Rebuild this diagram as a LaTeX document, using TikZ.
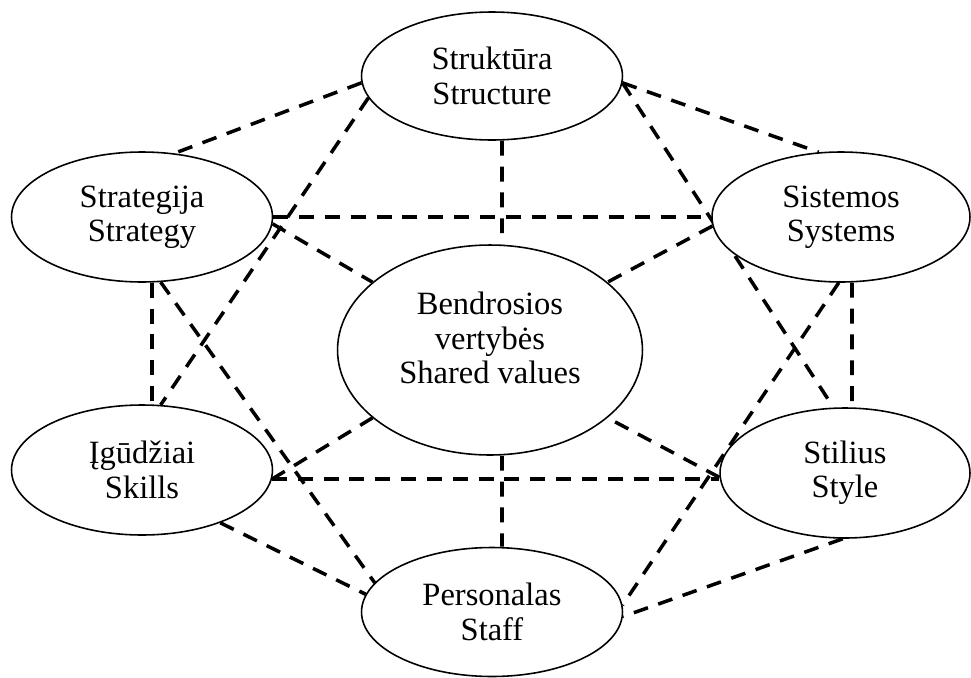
\documentclass[tikz,border=0pt]{standalone}
\usepackage{fontspec}
\setmainfont{Liberation Serif}
\usetikzlibrary{shapes.geometric,backgrounds}
\tikzset{
  every node/.style={font=\fontsize{18.5}{19.6}\selectfont},
  factor/.style={
    ellipse, draw=black, line width=0.9pt, fill=white,
    minimum width=5.22cm, minimum height=2.6cm,
    inner sep=0pt, align=center
  },
  link/.style={
    draw=black, line width=2pt, dash pattern=on 8.5pt off 6.2pt
  },
}
\begin{document}
\begin{tikzpicture}[x=0.02cm, y=-0.02cm]
  \useasboundingbox (0,0) rectangle (971,677);
  \node[factor, minimum height=2.56cm] (struct) at (492,76) {Struktūra\\Structure};
  \node[factor] (strat) at (142,217) {Strategija\\Strategy};
  \node[factor, minimum width=5.16cm] (sys) at (841,217) {Sistemos\\Systems};
  \node[factor, minimum width=6.1cm, minimum height=4.2cm, text depth=0.48cm] (shared) at (490,350) {Bendrosios\\vertybės\\Shared values};
  \node[factor] (skills) at (142,470) {Įgūdžiai\\Skills};
  \node[factor, minimum width=5cm] (style) at (845,473) {Stilius\\Style};
  \node[factor, minimum height=2.58cm] (staff) at (492,612) {Personalas\\Staff};

  \begin{scope}[on background layer]
    \draw[link] (struct.183) -- (strat.63);
    \draw[link] (struct.190) -- (skills.74);
    \draw[link] (struct.357) -- (sys.109);
    \draw[link] (struct.357) -- (style.100);
    \draw[link] ([xshift=0.2cm]struct.south) -- ([xshift=0.24cm]shared.north);
    \draw[link] (strat.east) -- (sys.west);
    \draw[link] (strat.357) -- (shared.150);
    \draw[link] ([xshift=0.2cm]strat.south) -- ([xshift=0.2cm]skills.north);
    \draw[link] (strat.286) -- (staff.166);
    \draw[link] (sys.184) -- (shared.30);
    \draw[link] ([xshift=0.22cm]sys.south) -- ([xshift=0.14cm]style.north);
    \draw[link] (sys.268) -- (staff.3);
    \draw[link] (skills.356) -- (skills.356 -| style.west);
    \draw[link] (skills.356) -- (shared.210);
    \draw[link] (skills.326) -- (staff.172);
    \draw[link] (style.182) -- (shared.330);
    \draw[link] (style.268) -- (staff.358);
    \draw[link] ([xshift=0.24cm]shared.south) -- ([xshift=0.2cm]staff.north);
  \end{scope}
\end{tikzpicture}
\end{document}
